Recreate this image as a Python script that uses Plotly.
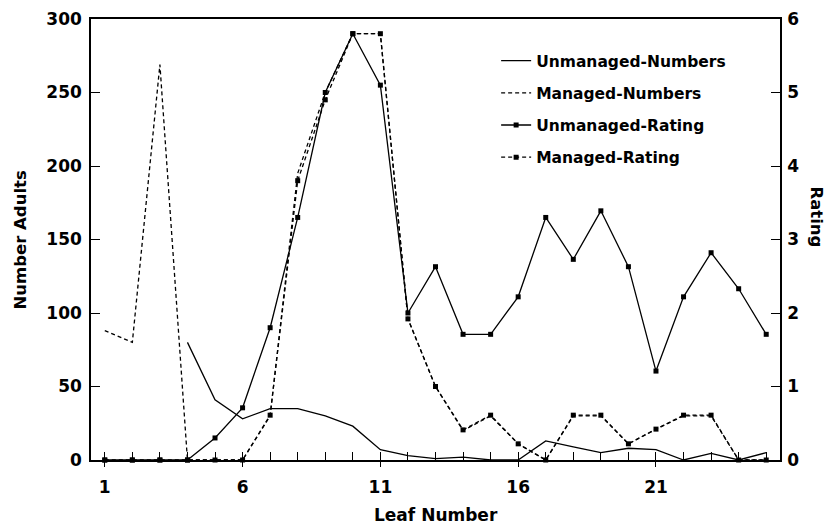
import plotly.graph_objects as go

leaf = list(range(1, 26))
leaf_unmanaged_numbers = list(range(4, 26))

unmanaged_numbers = [80, 41, 28, 35, 35, 30, 23, 7, 3, 1, 2, 0, 0, 13, 9, 5, 8, 7, 0, 4.5, 0, 5]
managed_numbers = [88, 80, 269, 0, 0, 0, 30, 195, 250, 290, 290, 96, 50, 20, 30, 11, 0, 30, 30, 11, 21, 30, 30, 0, 0]
unmanaged_rating = [0, 0, 0, 0, 0.3, 0.71, 1.8, 3.3, 5.0, 5.8, 5.1, 2.0, 2.63, 1.71, 1.71, 2.22,
                    3.3, 2.73, 3.39, 2.63, 1.21, 2.22, 2.82, 2.33, 1.71]
managed_rating = [0, 0, 0, 0, 0, 0, 0.61, 3.8, 4.9, 5.8, 5.8, 1.92, 1.0, 0.41, 0.61, 0.22,
                  0, 0.61, 0.61, 0.22, 0.42, 0.61, 0.61, 0, 0]

x_ticks = [1, 6, 11, 16, 21]
left_ticks = [0, 50, 100, 150, 200, 250, 300]
right_ticks = [0, 1, 2, 3, 4, 5, 6]

FONT = "DejaVu Sans"
DASH = "4px,3px"
LW = 1.3

fig = go.Figure()
fig.add_trace(go.Scatter(
    x=leaf_unmanaged_numbers, y=unmanaged_numbers, name="Unmanaged-Numbers",
    mode="lines", line=dict(color="black", width=LW), legendgroup="a",
    xaxis="x2", yaxis="y", cliponaxis=False))
fig.add_trace(go.Scatter(
    x=leaf, y=managed_numbers, name="Managed-Numbers",
    mode="lines", line=dict(color="black", width=LW, dash=DASH), legendgroup="b",
    xaxis="x", yaxis="y", cliponaxis=False))
fig.add_trace(go.Scatter(
    x=leaf, y=unmanaged_rating, name="Unmanaged-Rating",
    mode="lines+markers", line=dict(color="black", width=LW),
    marker=dict(symbol="square", size=5, color="black"), legendgroup="c",
    xaxis="x", yaxis="y2", cliponaxis=False))
fig.add_trace(go.Scatter(
    x=leaf, y=managed_rating, name="Managed-Rating",
    mode="lines+markers", line=dict(color="black", width=LW, dash=DASH),
    marker=dict(symbol="square", size=5, color="black"), legendgroup="d",
    xaxis="x", yaxis="y2", cliponaxis=False))

tickfont = dict(family=FONT, size=17, color="black", weight="bold")

# The page body adds an 8px offset, so the figure is 824x516 with margins shifted by 8px.
fig.update_layout(
    template="none",
    width=824, height=516,
    margin=dict(l=83, r=52, t=11, b=64, autoexpand=False),
    paper_bgcolor="white", plot_bgcolor="white",
    font=dict(family=FONT, color="black"),
    showlegend=True,
    legend=dict(x=0.588, y=0.943, xanchor="left", yanchor="top",
                bgcolor="rgba(0,0,0,0)", borderwidth=0,
                font=dict(family=FONT, size=15.5, color="black", weight="bold"),
                tracegroupgap=9, traceorder="grouped"),
    xaxis=dict(range=[0.5, 25.5], tickmode="array", tickvals=x_ticks, automargin=False,
               ticks="inside", ticklen=8, tickwidth=1.2, tickcolor="black",
               minor=dict(ticks="inside", dtick=1, tick0=1, ticklen=8, tickwidth=1.2,
                          tickcolor="black", showgrid=False),
               showline=True, linecolor="black", linewidth=1.5, mirror=True,
               showgrid=False, zeroline=False, tickfont=tickfont,
               ticklabelstandoff=11),
    xaxis2=dict(range=[0.5, 25.5], overlaying="x", anchor="y", side="bottom", automargin=False,
                tickmode="array", tickvals=x_ticks, ticks="outside", ticklen=6,
                tickwidth=1.2, tickcolor="black", showticklabels=False,
                showline=False, showgrid=False, zeroline=False),
    yaxis=dict(range=[0, 300], tickmode="array", tickvals=left_ticks, automargin=False,
               ticks="inside", ticklen=9, tickwidth=1.2, tickcolor="black",
               showline=True, linecolor="black", linewidth=1.5,
               showgrid=False, zeroline=False, tickfont=tickfont,
               ticklabelstandoff=4),
    yaxis2=dict(range=[0, 6], overlaying="y", side="right", anchor="x", automargin=False,
                tickmode="array", tickvals=right_ticks,
                ticks="inside", ticklen=9, tickwidth=1.2, tickcolor="black",
                showline=True, linecolor="black", linewidth=1.5,
                showgrid=False, zeroline=False, tickfont=tickfont,
                ticklabelstandoff=2),
    annotations=[
        dict(text="Number Adults", xref="paper", yref="paper", x=-0.103, y=0.5,
             xanchor="center", yanchor="middle", textangle=-90, showarrow=False,
             font=dict(family=FONT, size=16.5, color="black", weight="bold")),
        dict(text="Rating", xref="paper", yref="y2", x=1.0537, y=3.3,
             xanchor="center", yanchor="middle", textangle=90, showarrow=False,
             font=dict(family=FONT, size=16.5, color="black", weight="bold")),
        dict(text="Leaf Number", xref="paper", yref="paper", x=0.5, y=-0.125,
             xanchor="center", yanchor="middle", showarrow=False,
             font=dict(family=FONT, size=17, color="black", weight="bold")),
    ],
)

fig.write_html("out.html")
